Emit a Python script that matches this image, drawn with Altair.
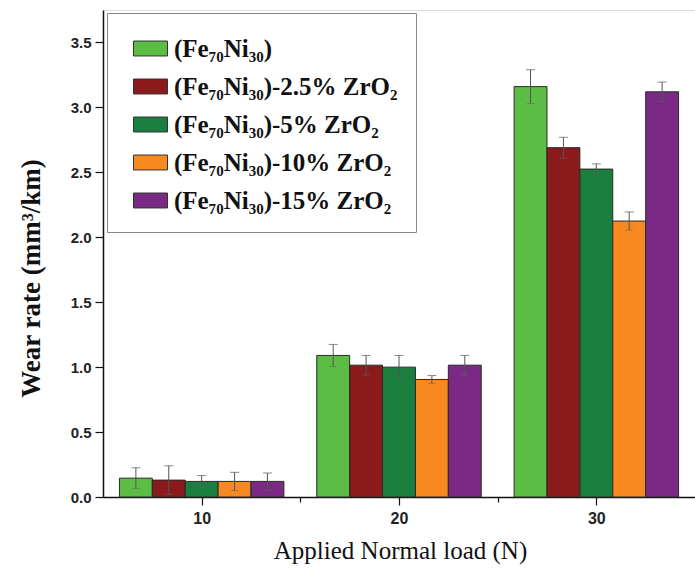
import altair as alt
import pandas as pd

loads = [10, 20, 30]
series = [
    "(Fe₇₀Ni₃₀)",
    "(Fe₇₀Ni₃₀)-2.5% ZrO₂",
    "(Fe₇₀Ni₃₀)-5% ZrO₂",
    "(Fe₇₀Ni₃₀)-10% ZrO₂",
    "(Fe₇₀Ni₃₀)-15% ZrO₂",
]
colors = ["#5cbd45", "#8a1a1b", "#1a7e3f", "#f6891f", "#7a2a84"]

values = {
    series[0]: [0.145, 1.09, 3.16],
    series[1]: [0.13, 1.015, 2.69],
    series[2]: [0.12, 1.00, 2.525],
    series[3]: [0.12, 0.905, 2.125],
    series[4]: [0.12, 1.015, 3.12],
}
errors = {
    series[0]: [0.08, 0.085, 0.13],
    series[1]: [0.11, 0.075, 0.08],
    series[2]: [0.045, 0.09, 0.04],
    series[3]: [0.07, 0.03, 0.07],
    series[4]: [0.065, 0.075, 0.075],
}

BW = 1.667  # bar width in x-data units
rows = []
for i, s in enumerate(series):
    for j, L in enumerate(loads):
        pos = L + (i - 2) * BW
        v = values[s][j]
        e = errors[s][j]
        rows.append(dict(series=s, order=i, load=L, pos=pos,
                         left=pos - BW / 2, right=pos + BW / 2,
                         value=v, lo=v - e, hi=v + e))
df = pd.DataFrame(rows)

minor_y = [k * 0.25 for k in range(15)]
x_ticks = [10, 15, 20, 25, 30]

xscale = alt.Scale(domain=[5, 35], nice=False, zero=False)
yscale = alt.Scale(domain=[0, 3.75], nice=False)

base = alt.Chart(df)

bars = base.mark_rect(stroke="#2a2a2a", strokeWidth=1).encode(
    x=alt.X("left:Q", scale=xscale,
            axis=alt.Axis(values=x_ticks,
                          labelExpr="datum.value % 10 == 0 ? datum.label : ''",
                          tickSize={"condition": {"test": "datum.value % 10 == 0", "value": 8}, "value": 5},
                          title="Applied Normal load (N)",
                          titleFont="Liberation Serif", titleFontSize=25,
                          titleFontWeight="normal", titleColor="#111",
                          titleX=297, titleY=53, titleBaseline="middle",
                          labelFont="Liberation Sans", labelFontSize=16,
                          labelFontWeight="bold", labelColor="#222",
                          labelPadding=5, tickColor="#111", domainColor="#111",
                          domainWidth=1.5, tickWidth=1.2, grid=False)),
    x2="right:Q",
    y=alt.Y("value:Q", scale=yscale,
            axis=alt.Axis(values=minor_y, format=".1f",
                          labelExpr="datum.value % 0.5 == 0 ? datum.label : ''",
                          tickSize={"condition": {"test": "datum.value % 0.5 == 0", "value": 8}, "value": 5},
                          title="Wear rate (mm³/km)",
                          titleFont="Liberation Serif", titleFontSize=27,
                          titleFontWeight="bold", titleColor="#111",
                          titleX=-72, titleY=268, titleAngle=-90,
                          titleBaseline="middle", titleAlign="center",
                          labelFont="Liberation Sans", labelFontSize=15,
                          labelFontWeight="bold", labelColor="#222",
                          labelPadding=4, tickColor="#111", domainColor="#111",
                          domainWidth=1.5, tickWidth=1.2, grid=False)),
    y2=alt.Y2(datum=0),
    color=alt.Color("series:N", scale=alt.Scale(domain=series, range=colors),
                    legend=alt.Legend(title=None, orient="none",
                                      legendX=4, legendY=3,
                                      symbolType="M-1,-0.44H1V0.44H-1Z",
                                      symbolSize=1156, symbolStrokeColor="#333",
                                      symbolStrokeWidth=1, symbolOpacity=1,
                                      symbolOffset=8,
                                      labelFont="Liberation Serif", labelFontSize=25,
                                      labelFontWeight="bold", labelColor="#111",
                                      labelLimit=400, labelOffset=6,
                                      rowPadding=7, padding=18,
                                      strokeColor="#888",
                                      fillColor="white")),
)

err = base.mark_rule(color="#555", strokeWidth=1).encode(
    x=alt.X("pos:Q", scale=xscale),
    y=alt.Y("lo:Q", scale=yscale),
    y2="hi:Q",
)
cap_hi = base.mark_tick(color="#555", orient="horizontal", size=9, thickness=1).encode(
    x=alt.X("pos:Q", scale=xscale),
    y=alt.Y("hi:Q", scale=yscale),
)
cap_lo = base.mark_tick(color="#666", orient="horizontal", size=7, thickness=1, opacity=0.6).encode(
    x=alt.X("pos:Q", scale=xscale),
    y=alt.Y("lo:Q", scale=yscale),
)

chart = alt.layer(bars, err, cap_hi, cap_lo).properties(
    width=592, height=487,
    autosize=alt.AutoSizeParams(type="none"),
    padding={"left": 103, "top": 10, "right": 0, "bottom": 72},
).configure_view(stroke="#888", strokeWidth=2).configure_legend(
    strokeWidth=2
).configure(background="white")

chart.save("out.html", embed_options={"renderer": "svg", "actions": False})
